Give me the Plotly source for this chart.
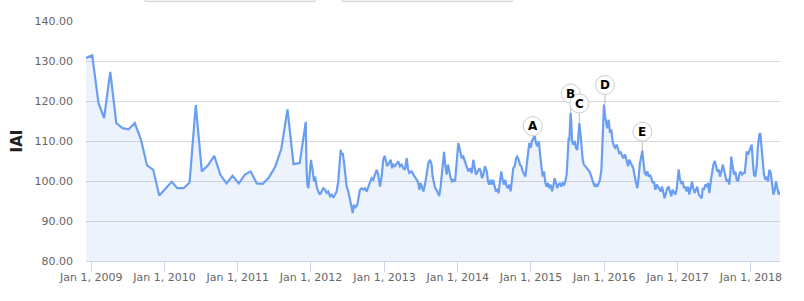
import pandas as pd
import plotly.graph_objects as go

# ---------------- data ----------------
# Monthly observations (Dec 2008 .. Dec 2011), taken on the 6th of each month
monthly_first_month = "2008-12-01"
monthly_day_of_month = 6
monthly_values = [130.75, 131.4, 119.5, 115.75, 127.25, 114.5, 113.2, 112.9, 114.5, 110.3,
                  103.9, 102.8, 96.4, 98.2, 99.8, 98.2, 98.2, 99.6, 119.0, 102.4,
                  103.9, 106.3, 101.6, 99.4, 101.3, 99.4, 101.6, 102.4, 99.4, 99.3,
                  100.9, 103.5, 108.0, 117.9, 104.2, 104.5, 114.8]

# Higher-frequency observations: days since base date, and index values
dense_base = "2012-01-01"
dense_days = [-22, -18, -13, -5, 0, 8, 15, 21, 28, 36, 45, 53, 61, 70, 78, 86, 95, 103, 111, 120,
              128, 136, 141, 148, 153, 158, 164, 169, 178, 186, 194, 203, 208, 214, 221, 231, 238, 244, 253, 261,
              269, 278, 286, 294, 302, 310, 319, 327, 335, 344, 352, 360, 367, 374, 380, 389, 397, 404, 410, 419,
              427, 435, 443, 452, 460, 468, 477, 483, 490, 502, 510, 518, 527, 535, 540, 547, 553, 560, 568, 577,
              585, 593, 601, 606, 613, 619, 626, 634, 639, 646, 653, 659, 663, 669, 676, 683, 689, 696, 703, 709,
              718, 726, 734, 742, 751, 759, 767, 776, 784, 792, 801, 809, 816, 822, 831, 839, 846, 852, 859, 867,
              876, 882, 888, 895, 902, 908, 915, 922, 928, 935, 942, 948, 955, 962, 968, 975, 982, 988, 995, 1002,
              1008, 1015, 1022, 1028, 1035, 1041, 1048, 1055, 1061, 1068, 1075, 1081, 1088, 1095, 1101, 1108, 1115, 1121, 1128, 1135,
              1141, 1148, 1155, 1161, 1168, 1174, 1181, 1187, 1194, 1201, 1207, 1214, 1221, 1227, 1234, 1241, 1247, 1254, 1261, 1267,
              1274, 1281, 1284, 1287, 1294, 1297, 1301, 1307, 1314, 1320, 1327, 1332, 1337, 1344, 1349, 1354, 1360, 1367, 1374, 1380,
              1387, 1394, 1400, 1407, 1414, 1420, 1427, 1434, 1440, 1447, 1450, 1454, 1460, 1465, 1470, 1476, 1483, 1490, 1496, 1503,
              1510, 1516, 1523, 1530, 1536, 1543, 1548, 1556, 1565, 1573, 1580, 1586, 1593, 1600, 1606, 1613, 1619, 1626, 1633, 1639,
              1646, 1651, 1656, 1663, 1669, 1676, 1683, 1689, 1696, 1703, 1709, 1716, 1723, 1729, 1736, 1743, 1749, 1756, 1762, 1769,
              1775, 1782, 1789, 1795, 1802, 1809, 1815, 1822, 1829, 1832, 1839, 1845, 1852, 1859, 1865, 1872, 1879, 1885, 1892, 1899,
              1905, 1912, 1918, 1925, 1932, 1938, 1947, 1952, 1958, 1965, 1972, 1978, 1985, 1992, 1998, 2005, 2012, 2018, 2025, 2032,
              2038, 2045, 2052, 2058, 2065, 2071, 2078, 2084, 2091, 2094, 2101, 2108, 2114, 2121, 2128, 2134, 2141, 2148, 2154, 2161,
              2168, 2171, 2178, 2184, 2191, 2196, 2201, 2207, 2214, 2221, 2227, 2234, 2239, 2244, 2251, 2257, 2264, 2271, 2277, 2284,
              2291, 2297, 2304, 2311, 2317, 2324, 2331, 2337]
dense_values = [102.8, 99.1, 98.2, 102.8, 105.3, 102.8, 99.9, 101.1, 98.6, 97.4, 96.6, 97.4, 98.2, 97.8, 97.0, 97.4, 96.2, 96.6, 95.8, 96.6,
                97.4, 99.9, 102.8, 107.8, 106.6, 107.0, 104.9, 102.0, 98.6, 97.4, 95.3, 92.8, 92.0, 94.1, 93.3, 94.1, 96.2, 97.8, 98.2, 97.8,
                98.2, 97.4, 98.6, 99.9, 100.7, 100.3, 101.6, 102.8, 101.6, 98.6, 101.1, 105.3, 106.3, 104.9, 103.7, 104.5, 105.3, 103.2, 104.1, 103.7,
                104.5, 104.9, 103.7, 104.1, 103.2, 102.8, 105.7, 103.2, 102.0, 102.4, 101.6, 101.1, 100.3, 99.5, 97.8, 99.5, 98.6, 97.4, 99.1, 102.0,
                104.5, 105.3, 104.1, 101.1, 99.9, 98.2, 97.8, 97.0, 96.2, 98.6, 102.8, 107.0, 107.3, 104.1, 101.6, 104.1, 102.4, 100.7, 99.9, 100.3,
                99.9, 105.3, 109.5, 107.8, 105.7, 106.1, 104.9, 103.7, 102.4, 103.2, 102.0, 105.3, 103.7, 101.6, 102.4, 103.2, 102.4, 100.7, 101.6, 103.7,
                102.4, 99.9, 99.1, 100.3, 99.1, 100.3, 98.6, 97.4, 97.8, 97.0, 99.9, 102.4, 100.3, 99.1, 100.3, 98.6, 98.2, 99.1, 97.4, 99.9,
                103.2, 103.7, 105.7, 106.1, 105.3, 104.1, 103.7, 102.4, 101.6, 101.1, 104.1, 106.6, 109.5, 108.3, 109.9, 110.7, 111.2, 109.5, 108.7, 109.9,
                106.6, 103.7, 101.1, 102.4, 99.5, 98.6, 99.5, 98.2, 99.1, 97.4, 98.6, 100.7, 99.5, 98.2, 99.1, 99.5, 98.6, 99.5, 99.1, 99.9,
                101.6, 106.6, 110.8, 110.0, 117.0, 114.5, 110.0, 109.1, 110.0, 108.3, 107.8, 110.8, 114.5, 111.2, 107.8, 105.3, 104.1, 103.7, 103.2, 102.8,
                102.4, 101.6, 100.3, 99.5, 98.6, 99.1, 98.6, 99.5, 100.3, 102.8, 107.0, 113.7, 119.1, 116.2, 114.5, 113.2, 115.3, 112.0, 112.9, 110.0,
                108.7, 108.3, 109.1, 107.8, 107.0, 107.2, 106.6, 105.7, 106.6, 105.0, 103.7, 105.3, 104.5, 104.1, 103.2, 101.1, 99.9, 98.2, 101.1, 104.5,
                106.1, 107.6, 105.0, 102.0, 101.6, 102.4, 101.1, 101.6, 100.7, 99.5, 99.9, 97.8, 99.1, 98.6, 97.8, 97.4, 98.6, 96.6, 95.7, 97.0,
                98.2, 98.6, 97.0, 96.2, 97.8, 97.0, 96.6, 97.8, 101.1, 102.9, 100.3, 99.5, 99.9, 98.2, 98.6, 97.4, 98.6, 96.6, 98.2, 99.9,
                98.2, 97.0, 97.8, 98.6, 96.6, 96.2, 95.7, 98.2, 97.8, 99.1, 98.6, 99.5, 97.0, 99.9, 102.0, 104.1, 105.0, 103.7, 102.4, 102.8,
                101.1, 102.4, 104.1, 102.8, 101.6, 99.9, 100.3, 99.1, 102.8, 106.1, 103.7, 101.6, 102.4, 100.3, 99.9, 101.6, 102.4, 101.6, 102.0, 102.0,
                105.3, 107.4, 106.6, 107.4, 108.7, 109.1, 105.3, 101.6, 101.1, 103.7, 108.7, 111.6, 112.0, 109.5, 104.5, 101.6, 100.3, 101.1, 99.9, 102.8,
                102.0, 98.6, 96.6, 97.8, 99.9, 98.2, 96.6, 97.4]

# Labelled events (days since dense_base)
event_labels = ["A", "B", "C", "D", "E"]
event_days = [1115, 1294, 1337, 1460, 1651]

y_ticks = [80, 90, 100, 110, 120, 130, 140]
y_title = "IAI"

# ---------------- build series ----------------
monthly_dates = list(pd.date_range(monthly_first_month, periods=len(monthly_values), freq="MS")
                     + pd.Timedelta(days=monthly_day_of_month - 1))
base = pd.Timestamp(dense_base)
dense_dates = [base + pd.Timedelta(days=d) for d in dense_days]
all_dates = monthly_dates + dense_dates
all_values = monthly_values + dense_values
lookup = dict(zip(dense_days, dense_values))

LINE = "#6a9ef0"
FILL = "rgba(106,158,240,0.12)"
AXIS = "#ccd6eb"
GRID = "#d9d9d9"
FONT = "DejaVu Sans"

fig = go.Figure()
fig.add_trace(go.Scatter(
    x=all_dates, y=all_values, mode="lines",
    line=dict(color=LINE, width=2.2), fill="tozeroy", fillcolor=FILL,
    hoverinfo="skip", showlegend=False))

# label style: pixel offsets (dx, dy) from the event point to the circle centre
label_style = {"A": (-2, 10), "B": (0, 19.5), "C": (0, 19.5), "D": (1, 19.5), "E": (0, 19)}
R = 9.5
shapes = []
annotations = []
for lab, d in zip(event_labels, event_days):
    xd = base + pd.Timedelta(days=d)
    yv = lookup[d]
    dx, dy = label_style[lab]
    if dy - R > 0:
        shapes.append(dict(type="line", xref="x", yref="y", xsizemode="pixel", ysizemode="pixel",
                           xanchor=xd, yanchor=yv, x0=dx, x1=dx, y0=0, y1=dy - R,
                           line=dict(color="#bbbbbb", width=1), layer="above"))
    shapes.append(dict(type="circle", xref="x", yref="y", xsizemode="pixel", ysizemode="pixel",
                       xanchor=xd, yanchor=yv, x0=dx - R, x1=dx + R, y0=dy - R, y1=dy + R,
                       fillcolor="white", line=dict(color="#cccccc", width=1), layer="above"))
    annotations.append(dict(x=xd, y=yv, xref="x", yref="y", text="<b>%s</b>" % lab,
                            showarrow=False, xshift=dx, yshift=dy,
                            font=dict(family=FONT, size=12, color="#000000")))

# partially visible boxes at the very top of the page
for x0, x1 in [(0.085, 0.330), (0.369, 0.614)]:
    shapes.append(dict(type="rect", xref="paper", yref="paper", x0=x0, x1=x1, y0=1.082, y1=1.3,
                       line=dict(color="#cccccc", width=1), fillcolor="white", layer="above"))

fig.update_layout(
    width=804, height=301,
    margin=dict(l=86, r=24, t=21, b=40),
    paper_bgcolor="white", plot_bgcolor="white",
    font=dict(family=FONT, size=11, color="#666666"),
    shapes=shapes, annotations=annotations,
    xaxis=dict(
        type="date", range=[all_dates[0], dense_dates[-1]],
        tick0="2009-01-01", dtick="M12", tickformat="%b %-d, %Y",
        showgrid=False, zeroline=False,
        showline=True, linecolor=AXIS, linewidth=1,
        ticks="outside", ticklen=10, tickcolor=AXIS, tickwidth=1,
        ticklabelstandoff=-4,
        tickfont=dict(family=FONT, size=11, color="#666666"),
    ),
    yaxis=dict(
        range=[80, 140], tickvals=y_ticks, tickformat=".2f",
        showgrid=True, gridcolor=GRID, gridwidth=1, zeroline=False,
        showline=False, ticks="", ticklabelstandoff=12,
        tickfont=dict(family=FONT, size=11, color="#666666"),
        title=dict(text="<b>%s</b>" % y_title, font=dict(family=FONT, size=15, color="#222222"), standoff=8),
    ),
)

fig.write_html("out.html")
